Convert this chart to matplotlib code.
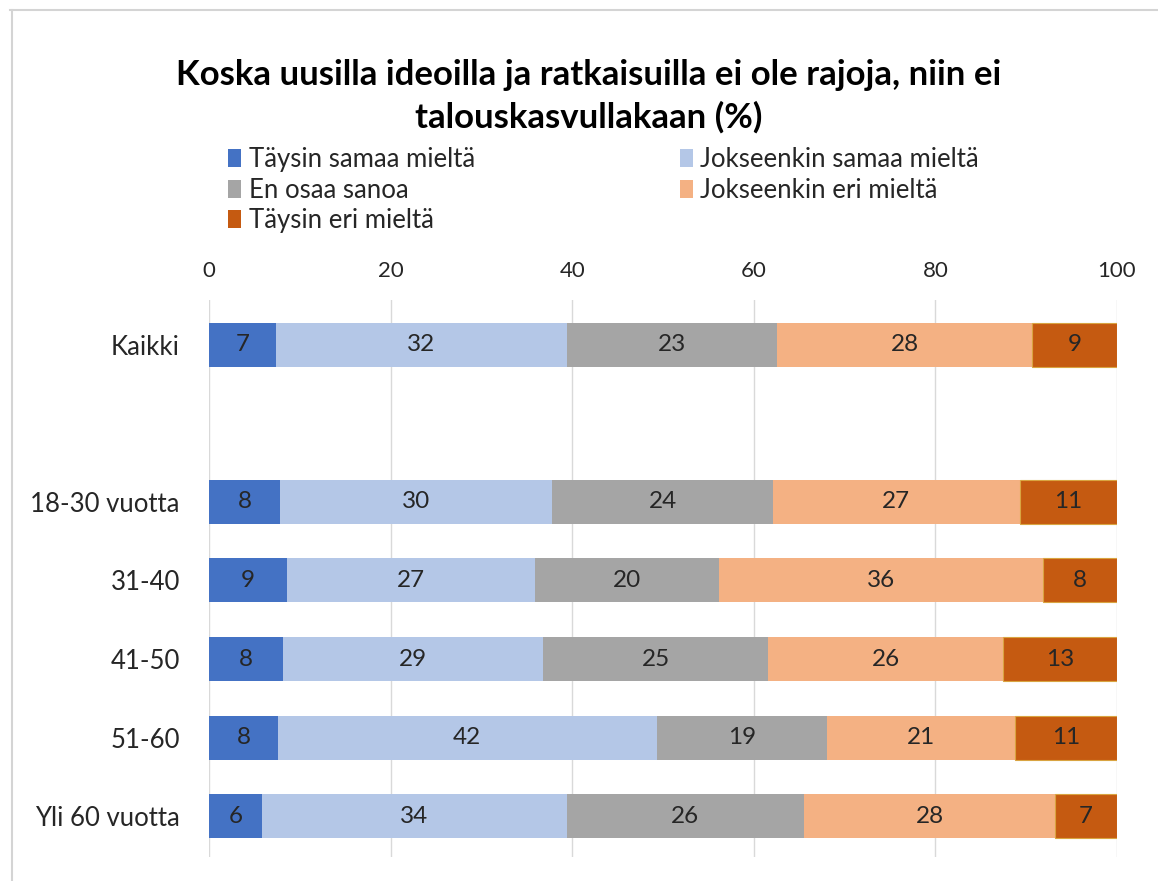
import matplotlib.pyplot as plt
from matplotlib.lines import Line2D
from matplotlib.patches import Patch
import numpy as np

plt.rcParams['font.family'] = ['Lato', 'DejaVu Sans']

# Ryhmät (tyhjä rivi Kaikki-rivin jälkeen)
ryhmat = ['Kaikki', '', '18-30 vuotta', '31-40', '41-50', '51-60', 'Yli 60 vuotta']
sarjat = ['Täysin samaa mieltä', 'Jokseenkin samaa mieltä', 'En osaa sanoa',
          'Jokseenkin eri mieltä', 'Täysin eri mieltä']
varit = ['#4472C4', '#B4C7E7', '#A5A5A5', '#F4B183', '#C55A11']

# Osuudet (%) luettu kuvasta, None = tyhjä rivi
taysin_samaa = [7.4, None, 7.8, 8.6, 8.2, 7.6, 5.8]
jokseenkin_samaa = [32.0, None, 30.0, 27.3, 28.6, 41.7, 33.6]
en_osaa = [23.2, None, 24.3, 20.3, 24.8, 18.8, 26.1]
jokseenkin_eri = [28.0, None, 27.2, 35.6, 25.8, 20.7, 27.7]
taysin_eri = [9.4, None, 10.7, 8.2, 12.6, 11.2, 6.8]

# Näytettävät luvut
nimiot = [
    [7, None, 8, 9, 8, 8, 6],
    [32, None, 30, 27, 29, 42, 34],
    [23, None, 24, 20, 25, 19, 26],
    [28, None, 27, 36, 26, 21, 28],
    [9, None, 11, 8, 13, 11, 7],
]

data = [taysin_samaa, jokseenkin_samaa, en_osaa, jokseenkin_eri, taysin_eri]

fig = plt.figure(figsize=(11.58, 8.81), dpi=100)
ax = fig.add_axes([0.1805, 0.0272, 0.7841, 0.6323])

y = np.arange(len(ryhmat))
rivit = [j for j in range(len(ryhmat)) if data[0][j] is not None]
vasen = np.zeros(len(ryhmat))
for i, (arvot, vari) in enumerate(zip(data, varit)):
    a = np.array([arvot[j] for j in rivit])
    reuna = '#D9A441' if i == 4 else vari
    ax.barh(y[rivit], a, left=vasen[rivit], height=0.56, color=vari,
            edgecolor=reuna, linewidth=0.8 if i == 4 else 0, zorder=3)
    for j in rivit:
        ax.text(vasen[j] + arvot[j] / 2, y[j], str(nimiot[i][j]), ha='center', va='center',
                fontsize=17.5, color='#262626', zorder=4)
        vasen[j] += arvot[j]

ax.set_xlim(0, 100)
ax.set_ylim(6.52, -0.57)
ax.set_xticks(range(0, 101, 20))
ax.xaxis.tick_top()
ax.tick_params(axis='x', length=0, pad=14, labelsize=16, labelcolor='#262626')
ax.tick_params(axis='y', length=0, pad=21, labelsize=18.5, labelcolor='#262626')
ax.set_yticks(y)
ax.set_yticklabels(ryhmat)
ax.grid(axis='x', color='#D9D9D9', linewidth=1, zorder=0)
for s in ax.spines.values():
    s.set_visible(False)

fig.text(0.508, 0.915, 'Koska uusilla ideoilla ja ratkaisuilla ei ole rajoja, niin ei',
         ha='center', va='center', fontsize=25, fontweight='bold', color='black')
fig.text(0.508, 0.867, 'talouskasvullakaan (%)',
         ha='center', va='center', fontsize=25, fontweight='bold', color='black')

# selite kahdessa sarakkeessa, rivit vasemmalta oikealle
kahvat = [Patch(facecolor=c, edgecolor='none') for c in varit]
sarake1 = [0, 2, 4]
sarake2 = [1, 3]
for xs, idx in [(0.197, sarake1), (0.587, sarake2)]:
    fig.legend([kahvat[k] for k in idx], [sarjat[k] for k in idx],
               loc='upper left', bbox_to_anchor=(xs, 0.833), ncol=1, frameon=False,
               fontsize=18.5, handlelength=0.5, handleheight=0.7, handletextpad=0.3,
               labelspacing=0.22, borderpad=0, borderaxespad=0, labelcolor='#262626')

# ohut kehys ylä- ja vasemmassa reunassa
fig.add_artist(Line2D([0.009, 1], [0.989, 0.989], color='#D4D4D4', linewidth=1.5))
fig.add_artist(Line2D([0.010, 0.010], [0, 0.989], color='#D4D4D4', linewidth=1.5))

fig.savefig('out.png', dpi=100, facecolor='white')
